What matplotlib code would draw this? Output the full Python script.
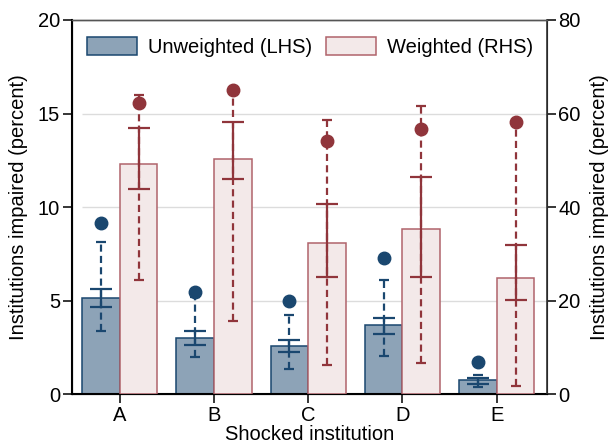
import numpy as np
import matplotlib
matplotlib.use("Agg")
import matplotlib.pyplot as plt
from matplotlib.patches import Patch

plt.rcParams['font.family'] = ['Liberation Sans', 'DejaVu Sans']

# data
cats = ['A', 'B', 'C', 'D', 'E']

# unweighted (left axis, percent)
unw_bar = [5.15, 3.03, 2.61, 3.71, 0.80]
unw_lo_cap = [3.40, 1.99, 1.35, 2.07, 0.38]
unw_hi_cap = [8.16, 5.22, 4.24, 6.11, 1.05]
unw_lo_x = [4.66, 2.63, 2.25, 3.21, 0.58]
unw_hi_x = [5.62, 3.41, 2.91, 4.07, 0.87]
unw_dot = [9.14, 5.49, 5.00, 7.27, 1.72]

# weighted (right axis, percent)
w_bar = [49.2, 50.3, 32.3, 35.3, 24.8]
w_lo_cap = [24.5, 15.6, 6.3, 6.8, 1.8]
w_hi_cap = [64.0, 65.3, 58.7, 61.6, 58.4]
w_lo_x = [43.8, 46.0, 25.2, 25.0, 20.2]
w_hi_x = [56.9, 58.3, 40.7, 46.5, 31.9]
w_dot = [62.3, 65.1, 54.2, 56.7, 58.3]

navy = '#1a476f'
navy_fill = '#8da3b7'
maroon = '#90353b'
maroon_edge = '#b0636b'
maroon_fill = '#f3e9e9'

fig = plt.figure(figsize=(6.08, 4.44), dpi=100)
ax = fig.add_axes([0.118, 0.1115, 0.781, 0.8435])
ax2 = ax.twinx()

x = np.arange(len(cats))
xu = x - 0.2
xw = x + 0.2


def draw_errs(a, xs, lo_cap, hi_cap, lo_x, hi_x, dot, col):
    lo_cap = np.array(lo_cap)
    hi_cap = np.array(hi_cap)
    lo_x = np.array(lo_x)
    hi_x = np.array(hi_x)
    # outer range: dashed with narrow caps
    eb = a.errorbar(xs, lo_cap, yerr=[np.zeros(len(xs)), hi_cap - lo_cap], fmt='none',
                    ecolor=col, elinewidth=1.6, capsize=3.6, capthick=1.6, zorder=4)
    eb[2][0].set_linestyle((0, (3.2, 1.9)))
    # inner range: solid with wide caps
    a.errorbar(xs, lo_x, yerr=[np.zeros(len(xs)), hi_x - lo_x], fmt='none',
               ecolor=col, elinewidth=1.6, capsize=8, capthick=1.6, zorder=5)
    a.plot(xs, dot, 'o', color=col, ms=9, zorder=6)


ax.bar(xu, unw_bar, width=0.4, color=navy_fill, edgecolor=navy, linewidth=1.1, zorder=2)
draw_errs(ax, xu, unw_lo_cap, unw_hi_cap, unw_lo_x, unw_hi_x, unw_dot, navy)

ax2.bar(xw, w_bar, width=0.4, color=maroon_fill, edgecolor=maroon_edge, linewidth=1.1, zorder=2)
draw_errs(ax2, xw, w_lo_cap, w_hi_cap, w_lo_x, w_hi_x, w_dot, maroon)

ax.set_xlim(-0.51, 4.53)
ax.set_ylim(0, 20)
ax2.set_ylim(0, 80)
ax.set_yticks([0, 5, 10, 15, 20])
ax2.set_yticks([0, 20, 40, 60, 80])
ax.set_xticks(x)
ax.set_xticklabels(cats)

# light grid, starting at first bar edge
for g in [5, 10, 15]:
    ax.hlines(g, -0.4, 4.53, color='#dcdcdc', lw=1.0, zorder=1)

fs = 14.5
ax.tick_params(axis='both', labelsize=fs, length=6.5, width=1.1, direction='out', pad=2)
ax2.tick_params(axis='y', labelsize=fs, length=6.5, width=1.1, direction='out', pad=2)

for a in (ax, ax2):
    a.spines['top'].set_color('#555555')
    a.spines['top'].set_linewidth(1.0)
ax.spines['left'].set_linewidth(1.5)
ax.spines['bottom'].set_linewidth(1.5)
ax2.spines['right'].set_color('#333333')
ax2.spines['right'].set_linewidth(1.2)

ax.set_ylabel('Institutions impaired (percent)', fontsize=fs)
ax.yaxis.set_label_coords(-0.092, 0.5)
ax2.set_ylabel('Institutions impaired (percent)', fontsize=fs, rotation=90)
ax2.yaxis.set_label_coords(1.091, 0.5)
ax.set_xlabel('Shocked institution', fontsize=fs)
ax.xaxis.set_label_coords(0.5, -0.081)

handles = [Patch(facecolor=navy_fill, edgecolor=navy, linewidth=1.1, label='Unweighted (LHS)'),
           Patch(facecolor=maroon_fill, edgecolor=maroon_edge, linewidth=1.1, label='Weighted (RHS)')]
ax2.legend(handles=handles, loc='center', bbox_to_anchor=(0.502, 0.929), ncol=2, frameon=False,
           fontsize=fs, handlelength=2.49, handleheight=1.0, handletextpad=0.55,
           columnspacing=0.7, borderpad=0)

fig.savefig('out.png', dpi=100)
